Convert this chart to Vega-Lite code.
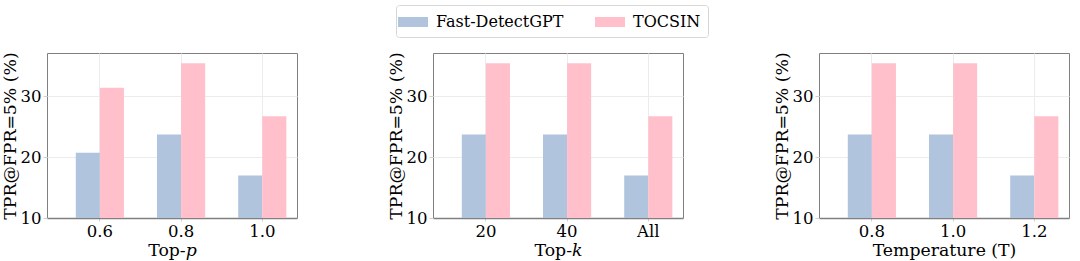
{
  "$schema": "https://vega.github.io/schema/vega-lite/v6.json",
  "background": "white",
  "padding": {"left": 0, "top": 4, "right": 2, "bottom": 5},
  "datasets": {
    "rows": [
      {"panel": "p", "x": "0.6", "method": "Fast-DetectGPT", "value": 20.7},
      {"panel": "p", "x": "0.6", "method": "TOCSIN", "value": 31.4},
      {"panel": "p", "x": "0.8", "method": "Fast-DetectGPT", "value": 23.7},
      {"panel": "p", "x": "0.8", "method": "TOCSIN", "value": 35.4},
      {"panel": "p", "x": "1.0", "method": "Fast-DetectGPT", "value": 17.0},
      {"panel": "p", "x": "1.0", "method": "TOCSIN", "value": 26.7},
      {"panel": "k", "x": "20", "method": "Fast-DetectGPT", "value": 23.7},
      {"panel": "k", "x": "20", "method": "TOCSIN", "value": 35.4},
      {"panel": "k", "x": "40", "method": "Fast-DetectGPT", "value": 23.7},
      {"panel": "k", "x": "40", "method": "TOCSIN", "value": 35.4},
      {"panel": "k", "x": "All", "method": "Fast-DetectGPT", "value": 17.0},
      {"panel": "k", "x": "All", "method": "TOCSIN", "value": 26.7},
      {"panel": "t", "x": "0.8", "method": "Fast-DetectGPT", "value": 23.7},
      {"panel": "t", "x": "0.8", "method": "TOCSIN", "value": 35.4},
      {"panel": "t", "x": "1.0", "method": "Fast-DetectGPT", "value": 23.7},
      {"panel": "t", "x": "1.0", "method": "TOCSIN", "value": 35.4},
      {"panel": "t", "x": "1.2", "method": "Fast-DetectGPT", "value": 17.0},
      {"panel": "t", "x": "1.2", "method": "TOCSIN", "value": 26.7}
    ]
  },
  "data": {"name": "rows"},
  "spacing": 88,
  "hconcat": [
    {
      "width": 250, "height": 165,
      "transform": [{"filter": "datum.panel === 'p'"}],
      "mark": {"type": "bar", "clip": true},
      "encoding": {
        "x": {"field": "x", "type": "nominal", "title": "Top-𝑝", "sort": null,
              "scale": {"paddingInner": 0.407, "paddingOuter": 0.243, "align": 0.73}},
        "xOffset": {"field": "method", "type": "nominal", "scale": {"paddingInner": 0, "paddingOuter": 0}},
        "y": {"field": "value", "type": "quantitative", "title": "TPR@FPR=5% (%)",
              "scale": {"domain": [10, 37.1], "nice": false, "zero": false},
              "axis": {"values": [10, 20, 30]}},
        "color": {"field": "method", "type": "nominal",
                  "scale": {"domain": ["Fast-DetectGPT", "TOCSIN"], "range": ["#b0c4de", "#ffc0cb"]},
                  "legend": {"title": null, "labelFont": "DejaVu Serif"}}
      }
    },
    {
      "width": 250, "height": 165,
      "transform": [{"filter": "datum.panel === 'k'"}],
      "mark": {"type": "bar", "clip": true},
      "encoding": {
        "x": {"field": "x", "type": "nominal", "title": "Top-𝑘", "sort": null,
              "scale": {"paddingInner": 0.407, "paddingOuter": 0.243, "align": 0.73}},
        "xOffset": {"field": "method", "type": "nominal", "scale": {"paddingInner": 0, "paddingOuter": 0}},
        "y": {"field": "value", "type": "quantitative", "title": "TPR@FPR=5% (%)",
              "scale": {"domain": [10, 37.1], "nice": false, "zero": false},
              "axis": {"values": [10, 20, 30]}},
        "color": {"field": "method", "type": "nominal"}
      }
    },
    {
      "width": 250, "height": 165,
      "transform": [{"filter": "datum.panel === 't'"}],
      "mark": {"type": "bar", "clip": true},
      "encoding": {
        "x": {"field": "x", "type": "nominal", "title": "Temperature (T)", "sort": null,
              "scale": {"paddingInner": 0.407, "paddingOuter": 0.243, "align": 0.73}},
        "xOffset": {"field": "method", "type": "nominal", "scale": {"paddingInner": 0, "paddingOuter": 0}},
        "y": {"field": "value", "type": "quantitative", "title": "TPR@FPR=5% (%)",
              "scale": {"domain": [10, 37.1], "nice": false, "zero": false},
              "axis": {"values": [10, 20, 30]}},
        "color": {"field": "method", "type": "nominal"}
      }
    }
  ],
  "resolve": {"scale": {"x": "independent"}},
  "config": {
    "font": "DejaVu Serif",
    "view": {"stroke": "#808080", "strokeWidth": 1},
    "axis": {
      "labelFont": "DejaVu Serif", "titleFont": "DejaVu Serif",
      "labelFontSize": 16.5, "titleFontSize": 17.3, "titleFontWeight": "normal",
      "labelColor": "black", "titleColor": "black",
      "ticks": true, "tickSize": 4, "tickColor": "#d0d0d0", "tickWidth": 1,
      "domain": false,
      "grid": true, "gridColor": "#ececec", "gridWidth": 1
    },
    "axisX": {"labelAngle": 0, "labelPadding": 2, "titlePadding": 2, "domain": true, "domainColor": "#808080", "domainWidth": 1.6, "tickSize": 3},
    "axisY": {"labelPadding": 2, "titlePadding": 1},
    "legend": {
      "orient": "none", "legendX": 349, "legendY": -48,
      "direction": "horizontal",
      "labelFont": "DejaVu Serif", "labelFontSize": 16, "labelColor": "black",
      "symbolType": "M-1.5,-0.5H1.5V0.5H-1.5Z", "symbolSize": 400, "symbolStrokeWidth": 0,
      "labelOffset": 13, "columnPadding": 31,
      "padding": 7, "strokeColor": "#d6d6d6", "cornerRadius": 3, "fillColor": "white"
    }
  }
}
